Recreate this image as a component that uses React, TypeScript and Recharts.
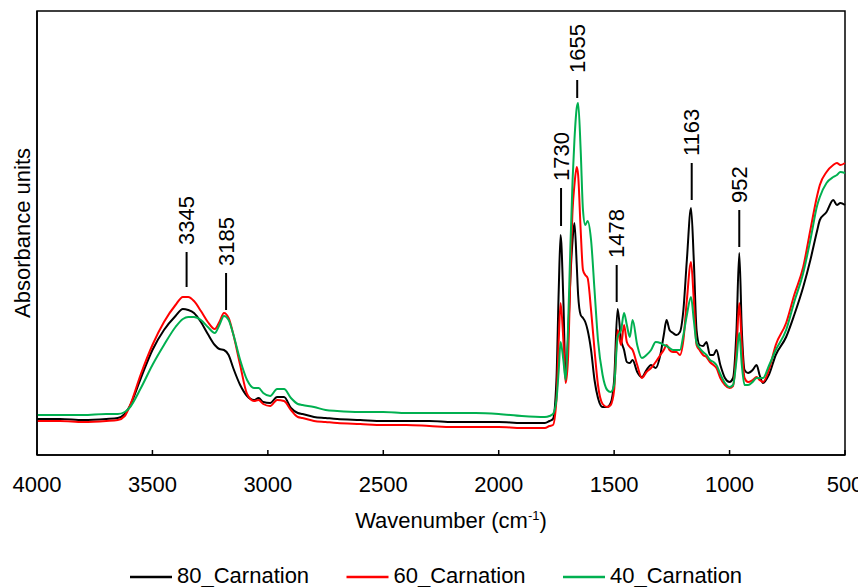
import { Legend, Line, LineChart, ReferenceArea, ReferenceLine, XAxis, YAxis } from "recharts";

// wavenumbers (cm-1), descending
const WAVENUMBER = [
  4000, 3900, 3800, 3700, 3650, 3620, 3600, 3550, 3500, 3450,
  3400, 3368, 3345, 3320, 3290, 3260, 3230, 3210, 3190, 3170,
  3150, 3120, 3090, 3060, 3040, 3020, 2990, 2960, 2930, 2900,
  2870, 2850, 2800, 2750, 2700, 2600, 2500, 2400, 2300, 2200,
  2100, 2000, 1900, 1800, 1780, 1765, 1750, 1740, 1732, 1720,
  1710, 1700, 1690, 1680, 1672, 1662, 1656, 1645, 1635, 1625,
  1615, 1600, 1585, 1570, 1550, 1530, 1515, 1500, 1485, 1470,
  1457, 1445, 1432, 1420, 1400, 1380, 1360, 1340, 1320, 1300,
  1285, 1273, 1260, 1245, 1230, 1215, 1200, 1185, 1167, 1155,
  1143, 1130, 1115, 1100, 1085, 1070, 1057, 1040, 1020, 1000,
  985, 970, 958, 947, 935, 920, 900, 883, 870, 855,
  830, 800, 755, 720, 681, 650, 620, 609, 580, 551,
  535, 520, 500,
];

const ABS_80 = [
  0.36, 0.36, 0.35, 0.36, 0.37, 0.41, 0.48, 0.77, 1.05, 1.25,
  1.39, 1.46, 1.45, 1.42, 1.33, 1.21, 1.1, 1.06, 1.05, 1.0,
  0.87, 0.7, 0.59, 0.55, 0.57, 0.53, 0.52, 0.58, 0.58, 0.47,
  0.42, 0.41, 0.38, 0.37, 0.36, 0.35, 0.34, 0.34, 0.34, 0.33,
  0.33, 0.33, 0.32, 0.32, 0.34, 0.36, 0.75, 1.65, 2.2, 1.55,
  0.77, 1.15, 1.75, 2.15, 2.32, 1.9, 1.6, 1.4, 1.37, 1.33,
  1.25, 1.05, 0.75, 0.57, 0.48, 0.48, 0.52, 0.75, 1.46, 1.15,
  1.05, 0.93, 0.92, 0.95, 0.83, 0.78, 0.85, 0.9, 0.87, 1.0,
  1.2, 1.35, 1.25, 1.22, 1.2, 1.23, 1.45, 1.95, 2.47, 1.95,
  1.25, 1.1, 1.09, 1.13, 1.0, 1.0, 1.05, 0.9, 0.77, 0.73,
  0.77, 1.25, 2.02, 1.25, 0.85, 0.82, 0.85, 0.9, 0.8, 0.72,
  0.8, 1.0, 1.18, 1.4, 1.68, 1.95, 2.25, 2.35, 2.43, 2.55,
  2.5, 2.52, 2.5,
];

const ABS_60 = [
  0.34, 0.34, 0.33, 0.34, 0.35, 0.39, 0.48, 0.81, 1.1, 1.33,
  1.5, 1.58, 1.58, 1.54, 1.44, 1.33, 1.26, 1.33, 1.42, 1.37,
  1.21, 0.9, 0.61, 0.54, 0.55, 0.51, 0.49, 0.55, 0.54, 0.45,
  0.38, 0.37, 0.34, 0.33, 0.32, 0.31, 0.3, 0.3, 0.29, 0.28,
  0.28, 0.28, 0.27, 0.27, 0.29, 0.3, 0.55, 1.15, 1.52, 1.15,
  0.72, 0.95, 1.75, 2.45, 2.7, 2.88, 2.8, 2.25, 1.85, 1.8,
  1.77, 1.45, 1.05, 0.7, 0.51, 0.48, 0.5, 0.65, 1.25, 1.1,
  1.3, 1.13, 1.08, 1.05, 0.9, 0.77, 0.83, 0.87, 0.93, 1.0,
  1.05, 1.1, 1.05, 1.03, 1.03, 1.0, 1.15, 1.55, 1.93, 1.55,
  1.1, 1.05, 1.0, 0.98, 0.93, 0.9, 0.87, 0.77, 0.7, 0.67,
  0.69, 1.05, 1.52, 1.1, 0.77, 0.73, 0.75, 0.78, 0.75, 0.73,
  0.85, 1.1, 1.32, 1.6, 1.88, 2.25, 2.6, 2.7, 2.83, 2.9,
  2.92, 2.9, 2.92,
];

const ABS_40 = [
  0.4, 0.4, 0.4, 0.41, 0.41, 0.43, 0.47, 0.67, 0.9, 1.1,
  1.28, 1.36, 1.38, 1.38, 1.35, 1.28, 1.22, 1.3, 1.39, 1.35,
  1.21, 0.95, 0.75, 0.67, 0.67, 0.62, 0.59, 0.66, 0.66, 0.57,
  0.51, 0.5, 0.48, 0.45, 0.44, 0.43, 0.43, 0.42, 0.42, 0.42,
  0.42, 0.41, 0.39, 0.38, 0.39, 0.41, 0.55, 0.85, 1.13, 0.95,
  0.75, 1.25, 2.05, 2.75, 3.15, 3.47, 3.52, 3.05, 2.45, 2.3,
  2.34, 2.15, 1.65, 1.15, 0.8, 0.65, 0.63, 0.7, 1.18, 1.25,
  1.42, 1.3, 1.18, 1.35, 1.1, 0.97, 1.0, 1.05, 1.13, 1.12,
  1.1, 1.09, 1.07, 1.05, 1.05, 1.05, 1.2, 1.4, 1.58, 1.35,
  1.12, 1.07, 1.03, 1.0, 0.95, 0.93, 0.9, 0.81, 0.72, 0.68,
  0.7, 0.95, 1.22, 0.9, 0.7, 0.7, 0.73, 0.77, 0.77, 0.77,
  0.89, 1.05, 1.25, 1.53, 1.82, 2.15, 2.5, 2.58, 2.72, 2.78,
  2.8, 2.83, 2.82,
];

const SERIES_NAMES = ["80_Carnation", "60_Carnation", "40_Carnation"];
const X_TICKS = [4000, 3500, 3000, 2500, 2000, 1500, 1000, 500];

// peak markers: label, position and the span of the short vertical tick
const PEAK_LABELS = ["3345", "3185", "1730", "1655", "1478", "1163", "952"];
const PEAK_X = [3352, 3181, 1730, 1660, 1489, 1164, 958];
const PEAK_TOP = [2.03, 1.82, 2.67, 3.75, 1.9, 2.92, 2.45];
const PEAK_BOTTOM = [1.68, 1.45, 2.29, 3.57, 1.53, 2.55, 2.08];

const Y_MAX = 4.44;
const FONT = "'Liberation Sans', Arial, sans-serif";

const rows = WAVENUMBER.map((w, i) => ({
  w,
  a80: ABS_80[i],
  a60: ABS_60[i],
  a40: ABS_40[i],
}));

function PeakLabel({ viewBox, peak }: any) {
  const x = viewBox?.x ?? 0;
  const y = (viewBox?.y ?? 0) - 7;
  return (
    <text
      x={x}
      y={y}
      transform={`rotate(-90 ${x} ${y})`}
      textAnchor="start"
      dominantBaseline="central"
      fontSize={22}
      fill="#000"
    >
      {peak}
    </text>
  );
}

function XLabel({ viewBox }: any) {
  const cx = viewBox ? viewBox.x + viewBox.width / 2 + 10 : 443;
  const y = viewBox ? viewBox.y + 73 : 520;
  return (
    <text x={cx} y={y} textAnchor="middle" fontSize={22} fill="#000">
      Wavenumber (cm
      <tspan dy={-8} fontSize={13}>
        -1
      </tspan>
      <tspan dy={8}>)</tspan>
    </text>
  );
}

function SeriesLegend({ payload }: any) {
  const items = [...(payload ?? [])].sort(
    (a: any, b: any) => SERIES_NAMES.indexOf(a.value) - SERIES_NAMES.indexOf(b.value)
  );
  return (
    <svg width={858} height={32}>
      {items.map((p: any, i: number) => {
        const x = 122 + i * 216.5;
        return (
          <g key={p.value}>
            <line x1={x} x2={x + 42} y1={14} y2={14} stroke={p.color} strokeWidth={2.5} />
            <text x={x + 47} y={20} fontSize={22} fill="#000" fontFamily={FONT}>
              {p.value}
            </text>
          </g>
        );
      })}
    </svg>
  );
}

export default function App() {
  return (
    <div style={{ fontFamily: FONT, width: 858, height: 579 }}>
      <LineChart
        width={858}
        height={579}
        data={rows}
        margin={{ top: 3, right: 21, left: 0, bottom: 42 }}
      >
        <XAxis
          type="number"
          dataKey="w"
          domain={[500, 4000]}
          reversed
          ticks={X_TICKS}
          interval={0}
          height={90}
          tickSize={-5}
          tickMargin={26}
          tick={{ fontSize: 22, fill: "#000" }}
          tickLine={{ stroke: "#000", strokeWidth: 1.5 }}
          axisLine={{ stroke: "#000", strokeWidth: 1.5 }}
          label={<XLabel />}
        />
        <YAxis
          type="number"
          domain={[0, Y_MAX]}
          width={29}
          tick={false}
          tickLine={false}
          axisLine={{ stroke: "#000", strokeWidth: 1.5 }}
          label={{ value: "Absorbance units", angle: -90, position: "center", fontSize: 22, fill: "#000" }}
        />
        <ReferenceArea
          x1={4000}
          x2={500}
          y1={0}
          y2={Y_MAX}
          fill="none"
          fillOpacity={0}
          stroke="#000"
          strokeWidth={1.5}
          ifOverflow="visible"
        />
        <Legend
          verticalAlign="middle"
          align="center"
          wrapperStyle={{ top: 555, left: 0, width: 858, height: 32 }}
          content={<SeriesLegend />}
        />
        <Line type="monotone" dataKey="a80" name={SERIES_NAMES[0]} stroke="#000000" strokeWidth={2} dot={false} isAnimationActive={false} />
        <Line type="monotone" dataKey="a60" name={SERIES_NAMES[1]} stroke="#ff0000" strokeWidth={2} dot={false} isAnimationActive={false} />
        <Line type="monotone" dataKey="a40" name={SERIES_NAMES[2]} stroke="#00b050" strokeWidth={2} dot={false} isAnimationActive={false} />
        {PEAK_X.map((x, i) => (
          <ReferenceLine
            key={PEAK_LABELS[i]}
            segment={[
              { x, y: PEAK_BOTTOM[i] },
              { x, y: PEAK_TOP[i] },
            ]}
            stroke="#000"
            strokeWidth={2}
            ifOverflow="visible"
            label={<PeakLabel peak={PEAK_LABELS[i]} />}
          />
        ))}
      </LineChart>
    </div>
  );
}
